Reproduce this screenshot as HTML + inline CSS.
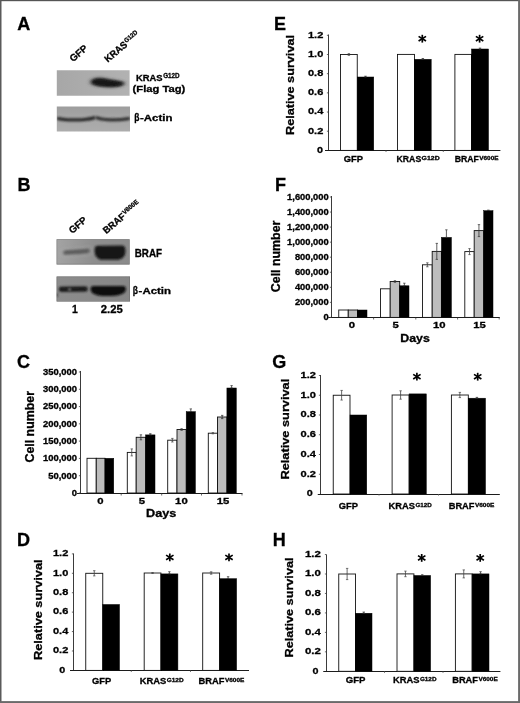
<!DOCTYPE html>
<html><head><meta charset="utf-8"><title>Figure</title>
<style>html,body{margin:0;padding:0;background:#fff;}svg{display:block;}text{font-family:"Liberation Sans", sans-serif;font-weight:bold;fill:#000;stroke:#000;stroke-width:0.3px;}</style></head><body>
<svg width="520" height="703" viewBox="0 0 520 703">
<defs>
<filter id="b1" filterUnits="userSpaceOnUse" x="40" y="50" width="120" height="270"><feGaussianBlur stdDeviation="1.6 1.3"/></filter>
<filter id="b2" filterUnits="userSpaceOnUse" x="40" y="50" width="120" height="270"><feGaussianBlur stdDeviation="1.1 0.9"/></filter>
<filter id="b3" filterUnits="userSpaceOnUse" x="40" y="50" width="120" height="270"><feGaussianBlur stdDeviation="2.2 1.6"/></filter>
<filter id="b4" filterUnits="userSpaceOnUse" x="40" y="50" width="120" height="270"><feGaussianBlur stdDeviation="0.8"/></filter>
<filter id="soft"><feGaussianBlur stdDeviation="0.35"/></filter>
<linearGradient id="gA1" x1="0" x2="1" y1="0" y2="0"><stop offset="0" stop-color="#a7a7a7"/><stop offset="1" stop-color="#b2b2b2"/></linearGradient>
<linearGradient id="gA2" x1="0" x2="0" y1="0" y2="1"><stop offset="0" stop-color="#9d9d9d"/><stop offset="0.6" stop-color="#a9a9a9"/><stop offset="1" stop-color="#adadad"/></linearGradient>
<linearGradient id="gB1" x1="0" x2="1" y1="0" y2="0"><stop offset="0" stop-color="#a4a4a4"/><stop offset="0.5" stop-color="#8e8e8e"/><stop offset="1" stop-color="#8a8a8a"/></linearGradient>
<linearGradient id="gB2" x1="0" x2="1" y1="0" y2="0"><stop offset="0" stop-color="#8c8c8c"/><stop offset="1" stop-color="#868686"/></linearGradient>
<clipPath id="cA1"><rect x="56.8" y="70.2" width="72.8" height="25.6"/></clipPath>
<clipPath id="cA2"><rect x="56.8" y="106.5" width="73.2" height="25.1"/></clipPath>
<clipPath id="cB1"><rect x="56.6" y="239.3" width="73" height="25.1"/></clipPath>
<clipPath id="cB2"><rect x="56.6" y="276.5" width="73.4" height="25.1"/></clipPath>
</defs>
<rect x="0" y="0" width="520" height="703" fill="#fff"/>
<g filter="url(#soft)">
<text x="17.3" y="30.4" font-size="18">A</text>
<text x="17.5" y="191" font-size="18">B</text>
<text x="17.0" y="368.2" font-size="18">C</text>
<text x="17.0" y="546" font-size="18">D</text>
<text x="274.0" y="30.2" font-size="18">E</text>
<text x="275.0" y="191" font-size="18">F</text>
<text x="272.2" y="368.3" font-size="18">G</text>
<text x="272.8" y="546" font-size="18">H</text>
<g clip-path="url(#cA1)"><rect x="56" y="70" width="75" height="27" fill="url(#gA1)"/><path d="M90.5,81.5 C92,78 98,77.2 104,78.2 C111,79.4 118,80.6 124.5,82.2 C125.5,84.5 123,86 118,86.8 C111,87.8 101,87.4 95,85.6 C91.5,84.6 90,83.4 90.5,81.5 Z" fill="#2c2c2c" filter="url(#b3)"/><path d="M93,81.6 C95,79.6 100,79.4 105,80.2 C111,81.2 117,82 122,83 C122,84.6 118,85.4 113,85.6 C106,85.8 99,85.2 95.5,84 C93.5,83.3 92.6,82.6 93,81.6 Z" fill="#181818" stroke="#181818" stroke-width="1.2" filter="url(#b1)"/></g>
<g clip-path="url(#cA2)"><rect x="56" y="106" width="75" height="27" fill="url(#gA2)"/><path d="M58.5,118.6 C66,120.4 84,120.6 94.0,117.8" fill="none" stroke="#2a2a2a" stroke-width="3.3" stroke-linecap="round" filter="url(#b2)"/><path d="M97,117.8 C104,120.6 119,120.2 128.5,118.6" fill="none" stroke="#323232" stroke-width="3.2" stroke-linecap="round" filter="url(#b2)"/></g>
<g clip-path="url(#cB1)"><rect x="56" y="239" width="75" height="27" fill="url(#gB1)"/><path d="M64,252.8 C72,251.8 82,252 89,250.8" fill="none" stroke="#b4b4b4" stroke-width="9" stroke-linecap="round" opacity="0.3" filter="url(#b3)"/><path d="M65.5,252.6 C72,251.8 82,251.9 87.5,250.8" fill="none" stroke="#484848" stroke-width="4.8" stroke-linecap="round" opacity="0.75" filter="url(#b1)"/><path d="M97.6,248.8 L122.2,248.6 C123.2,252 122.6,256 118,256.8 L101,256.8 C98,255.4 97.2,252 97.6,248.8 Z" fill="#141414" stroke="#141414" stroke-width="6" stroke-linejoin="round" filter="url(#b4)"/><rect x="56.6" y="239.3" width="73" height="25.1" fill="none" stroke="#6a6a6a" stroke-width="1.2" opacity="0.7"/></g>
<g clip-path="url(#cB2)"><rect x="56" y="276" width="75" height="27" fill="url(#gB2)"/><path d="M61.5,289.2 L85,289" fill="none" stroke="#1e1e1e" stroke-width="5.5" stroke-linecap="round" filter="url(#b2)"/><circle cx="69.6" cy="289.4" r="1.5" fill="#777" filter="url(#b2)"/><path d="M93,288.4 L123.5,288.4 C124,291 120,293.6 112,293.6 L102,293.6 C95,293.2 92.6,291 93,288.4 Z" fill="#0e0e0e" stroke="#0e0e0e" stroke-width="4.8" stroke-linejoin="round" filter="url(#b4)"/><rect x="56.2" y="293.5" width="1.4" height="3" fill="#222" filter="url(#b4)"/><rect x="56.6" y="276.5" width="73.4" height="25.1" fill="none" stroke="#666" stroke-width="1.2" opacity="0.7"/></g>
<text transform="translate(73.0,62.3) rotate(-40)" font-size="9.7" textLength="20" lengthAdjust="spacingAndGlyphs" stroke-width="0.65">GFP</text>
<text transform="translate(107.8,62.7) rotate(-40)" font-size="9.7" textLength="26.3" lengthAdjust="spacingAndGlyphs" stroke-width="0.65">KRAS</text>
<text transform="translate(107.8,62.7) rotate(-40)" x="26.8" y="-3.3" font-size="6.4" textLength="15.4" lengthAdjust="spacingAndGlyphs" stroke-width="0.65">G12D</text>
<text x="136.00" y="81.40" font-size="8.9" textLength="26.60" lengthAdjust="spacingAndGlyphs" stroke-width="0.65">KRAS</text>
<text x="163.20" y="77.90" font-size="6.6" textLength="16.40" lengthAdjust="spacingAndGlyphs" stroke-width="0.65">G12D</text>
<text x="132.60" y="92.40" font-size="9.7" textLength="52.70" lengthAdjust="spacingAndGlyphs" stroke-width="0.65">(Flag Tag)</text>
<text x="134.20" y="121.10" font-size="10.0" textLength="5.20" lengthAdjust="spacingAndGlyphs" font-weight="normal" stroke-width="0.2">β</text>
<text x="140.00" y="121.10" font-size="9.3" textLength="32.40" lengthAdjust="spacingAndGlyphs" stroke-width="0.65">-Actin</text>
<text transform="translate(72.2,234) rotate(-40)" font-size="9.7" textLength="20" lengthAdjust="spacingAndGlyphs" stroke-width="0.65">GFP</text>
<text transform="translate(106.2,234.3) rotate(-40)" font-size="9.7" textLength="26" lengthAdjust="spacingAndGlyphs" stroke-width="0.65">BRAF</text>
<text transform="translate(106.2,234.3) rotate(-40)" x="26.5" y="-3.3" font-size="6.4" textLength="19" lengthAdjust="spacingAndGlyphs" stroke-width="0.65">V600E</text>
<text x="134.80" y="256.70" font-size="10.3" textLength="27.20" lengthAdjust="spacingAndGlyphs" stroke-width="0.65">BRAF</text>
<text x="132.80" y="293.90" font-size="10.0" textLength="5.20" lengthAdjust="spacingAndGlyphs" font-weight="normal" stroke-width="0.2">β</text>
<text x="138.60" y="293.90" font-size="9.3" textLength="32.40" lengthAdjust="spacingAndGlyphs" stroke-width="0.65">-Actin</text>
<text x="72.00" y="313.30" font-size="10.8" textLength="5.80" lengthAdjust="spacingAndGlyphs" stroke-width="0.65">1</text>
<text x="100.80" y="313.30" font-size="10.8" textLength="22.00" lengthAdjust="spacingAndGlyphs" stroke-width="0.65">2.25</text>
<line x1="80.50" y1="370.97" x2="80.50" y2="493.50" stroke="#3a3a3a" stroke-width="1.0"/>
<line x1="77.00" y1="493.50" x2="242.50" y2="493.50" stroke="#1a1a1a" stroke-width="1.2"/>
<text x="71.78" y="495.80" font-size="8.2" textLength="5.22" lengthAdjust="spacingAndGlyphs" stroke-width="0.45">0</text>
<line x1="78.90" y1="493.00" x2="80.50" y2="493.00" stroke="#444" stroke-width="0.8"/>
<text x="48.29" y="478.51" font-size="8.2" textLength="28.71" lengthAdjust="spacingAndGlyphs" stroke-width="0.45">50,000</text>
<line x1="78.90" y1="475.71" x2="80.50" y2="475.71" stroke="#444" stroke-width="0.8"/>
<text x="43.07" y="461.22" font-size="8.2" textLength="33.93" lengthAdjust="spacingAndGlyphs" stroke-width="0.45">100,000</text>
<line x1="78.90" y1="458.42" x2="80.50" y2="458.42" stroke="#444" stroke-width="0.8"/>
<text x="43.07" y="443.93" font-size="8.2" textLength="33.93" lengthAdjust="spacingAndGlyphs" stroke-width="0.45">150,000</text>
<line x1="78.90" y1="441.13" x2="80.50" y2="441.13" stroke="#444" stroke-width="0.8"/>
<text x="43.07" y="426.64" font-size="8.2" textLength="33.93" lengthAdjust="spacingAndGlyphs" stroke-width="0.45">200,000</text>
<line x1="78.90" y1="423.84" x2="80.50" y2="423.84" stroke="#444" stroke-width="0.8"/>
<text x="43.07" y="409.35" font-size="8.2" textLength="33.93" lengthAdjust="spacingAndGlyphs" stroke-width="0.45">250,000</text>
<line x1="78.90" y1="406.55" x2="80.50" y2="406.55" stroke="#444" stroke-width="0.8"/>
<text x="43.07" y="392.06" font-size="8.2" textLength="33.93" lengthAdjust="spacingAndGlyphs" stroke-width="0.45">300,000</text>
<line x1="78.90" y1="389.26" x2="80.50" y2="389.26" stroke="#444" stroke-width="0.8"/>
<text x="43.07" y="374.77" font-size="8.2" textLength="33.93" lengthAdjust="spacingAndGlyphs" stroke-width="0.45">350,000</text>
<line x1="78.90" y1="371.97" x2="80.50" y2="371.97" stroke="#444" stroke-width="0.8"/>
<rect x="87.00" y="458.30" width="9.25" height="34.70" fill="#fff" stroke="#111" stroke-width="0.9"/>
<rect x="96.25" y="458.30" width="8.75" height="34.70" fill="#bdbdbd" stroke="#111" stroke-width="0.9"/>
<rect x="105.00" y="458.30" width="8.75" height="34.70" fill="#000" stroke="#000" stroke-width="0.5"/>
<rect x="127.30" y="452.40" width="8.90" height="40.60" fill="#fff" stroke="#111" stroke-width="0.9"/>
<rect x="136.20" y="437.30" width="9.40" height="55.70" fill="#bdbdbd" stroke="#111" stroke-width="0.9"/>
<rect x="145.60" y="434.90" width="9.40" height="58.10" fill="#000" stroke="#000" stroke-width="0.5"/>
<line x1="131.75" y1="448.90" x2="131.75" y2="455.90" stroke="#444" stroke-width="0.8"/>
<line x1="130.55" y1="448.90" x2="132.95" y2="448.90" stroke="#444" stroke-width="0.7"/>
<line x1="130.55" y1="455.90" x2="132.95" y2="455.90" stroke="#444" stroke-width="0.7"/>
<line x1="140.90" y1="434.80" x2="140.90" y2="439.80" stroke="#333" stroke-width="0.8"/>
<line x1="139.70" y1="434.80" x2="142.10" y2="434.80" stroke="#333" stroke-width="0.7"/>
<line x1="139.70" y1="439.80" x2="142.10" y2="439.80" stroke="#333" stroke-width="0.7"/>
<line x1="150.30" y1="433.70" x2="150.30" y2="434.90" stroke="#333" stroke-width="0.8"/>
<line x1="149.10" y1="433.70" x2="151.50" y2="433.70" stroke="#333" stroke-width="0.7"/>
<line x1="149.10" y1="434.90" x2="151.50" y2="434.90" stroke="#333" stroke-width="0.7"/>
<rect x="167.70" y="440.20" width="9.30" height="52.80" fill="#fff" stroke="#111" stroke-width="0.9"/>
<rect x="177.00" y="429.50" width="9.20" height="63.50" fill="#bdbdbd" stroke="#111" stroke-width="0.9"/>
<rect x="186.20" y="411.70" width="9.20" height="81.30" fill="#000" stroke="#000" stroke-width="0.5"/>
<line x1="172.35" y1="438.40" x2="172.35" y2="442.00" stroke="#444" stroke-width="0.8"/>
<line x1="171.15" y1="438.40" x2="173.55" y2="438.40" stroke="#444" stroke-width="0.7"/>
<line x1="171.15" y1="442.00" x2="173.55" y2="442.00" stroke="#444" stroke-width="0.7"/>
<line x1="181.60" y1="428.70" x2="181.60" y2="430.30" stroke="#333" stroke-width="0.8"/>
<line x1="180.40" y1="428.70" x2="182.80" y2="428.70" stroke="#333" stroke-width="0.7"/>
<line x1="180.40" y1="430.30" x2="182.80" y2="430.30" stroke="#333" stroke-width="0.7"/>
<line x1="190.80" y1="408.90" x2="190.80" y2="411.70" stroke="#333" stroke-width="0.8"/>
<line x1="189.60" y1="408.90" x2="192.00" y2="408.90" stroke="#333" stroke-width="0.7"/>
<line x1="189.60" y1="411.70" x2="192.00" y2="411.70" stroke="#333" stroke-width="0.7"/>
<rect x="208.30" y="433.20" width="9.20" height="59.80" fill="#fff" stroke="#111" stroke-width="0.9"/>
<rect x="217.50" y="417.00" width="9.40" height="76.00" fill="#bdbdbd" stroke="#111" stroke-width="0.9"/>
<rect x="226.90" y="388.00" width="9.40" height="105.00" fill="#000" stroke="#000" stroke-width="0.5"/>
<line x1="212.90" y1="432.60" x2="212.90" y2="433.80" stroke="#444" stroke-width="0.8"/>
<line x1="211.70" y1="432.60" x2="214.10" y2="432.60" stroke="#444" stroke-width="0.7"/>
<line x1="211.70" y1="433.80" x2="214.10" y2="433.80" stroke="#444" stroke-width="0.7"/>
<line x1="222.20" y1="415.40" x2="222.20" y2="418.60" stroke="#333" stroke-width="0.8"/>
<line x1="221.00" y1="415.40" x2="223.40" y2="415.40" stroke="#333" stroke-width="0.7"/>
<line x1="221.00" y1="418.60" x2="223.40" y2="418.60" stroke="#333" stroke-width="0.7"/>
<line x1="231.60" y1="385.60" x2="231.60" y2="388.00" stroke="#333" stroke-width="0.8"/>
<line x1="230.40" y1="385.60" x2="232.80" y2="385.60" stroke="#333" stroke-width="0.7"/>
<line x1="230.40" y1="388.00" x2="232.80" y2="388.00" stroke="#333" stroke-width="0.7"/>
<line x1="121.20" y1="493.50" x2="121.20" y2="495.50" stroke="#444" stroke-width="0.8"/>
<line x1="161.70" y1="493.50" x2="161.70" y2="495.50" stroke="#444" stroke-width="0.8"/>
<line x1="201.50" y1="493.50" x2="201.50" y2="495.50" stroke="#444" stroke-width="0.8"/>
<line x1="242.00" y1="493.50" x2="242.00" y2="495.50" stroke="#444" stroke-width="0.8"/>
<text x="97.35" y="503.80" font-size="9.1" textLength="6.30" lengthAdjust="spacingAndGlyphs" stroke-width="0.6">0</text>
<text x="138.85" y="503.80" font-size="9.1" textLength="6.30" lengthAdjust="spacingAndGlyphs" stroke-width="0.6">5</text>
<text x="175.10" y="503.80" font-size="9.1" textLength="12.60" lengthAdjust="spacingAndGlyphs" stroke-width="0.6">10</text>
<text x="216.70" y="503.80" font-size="9.1" textLength="12.60" lengthAdjust="spacingAndGlyphs" stroke-width="0.6">15</text>
<text x="146.00" y="516.80" font-size="10.6" textLength="30.30" lengthAdjust="spacingAndGlyphs" stroke-width="0.75">Days</text>
<text transform="translate(33.82,462.50) rotate(-90)" x="0" y="0" font-size="12" textLength="71.50" lengthAdjust="spacingAndGlyphs" stroke-width="0.7">Cell number</text>
<line x1="73.50" y1="553.50" x2="73.50" y2="670.50" stroke="#3a3a3a" stroke-width="1.0"/>
<line x1="70.00" y1="670.50" x2="249.00" y2="670.50" stroke="#1a1a1a" stroke-width="1.2"/>
<line x1="71.90" y1="650.98" x2="73.50" y2="650.98" stroke="#444" stroke-width="0.8"/>
<line x1="71.90" y1="631.56" x2="73.50" y2="631.56" stroke="#444" stroke-width="0.8"/>
<line x1="71.90" y1="612.14" x2="73.50" y2="612.14" stroke="#444" stroke-width="0.8"/>
<line x1="71.90" y1="592.72" x2="73.50" y2="592.72" stroke="#444" stroke-width="0.8"/>
<line x1="71.90" y1="573.30" x2="73.50" y2="573.30" stroke="#444" stroke-width="0.8"/>
<line x1="71.90" y1="553.88" x2="73.50" y2="553.88" stroke="#444" stroke-width="0.8"/>
<text x="59.20" y="672.70" font-size="9.8" textLength="6.00" lengthAdjust="spacingAndGlyphs" stroke-width="0.45">0</text>
<text x="53.00" y="653.28" font-size="9.8" textLength="15.30" lengthAdjust="spacingAndGlyphs" stroke-width="0.45">0.2</text>
<text x="53.00" y="633.86" font-size="9.8" textLength="15.30" lengthAdjust="spacingAndGlyphs" stroke-width="0.45">0.4</text>
<text x="53.00" y="614.44" font-size="9.8" textLength="15.30" lengthAdjust="spacingAndGlyphs" stroke-width="0.45">0.6</text>
<text x="53.00" y="595.02" font-size="9.8" textLength="15.30" lengthAdjust="spacingAndGlyphs" stroke-width="0.45">0.8</text>
<text x="53.00" y="575.60" font-size="9.8" textLength="15.30" lengthAdjust="spacingAndGlyphs" stroke-width="0.45">1.0</text>
<text x="53.00" y="556.18" font-size="9.8" textLength="15.30" lengthAdjust="spacingAndGlyphs" stroke-width="0.45">1.2</text>
<rect x="85.75" y="573.30" width="17.00" height="97.10" fill="#fff" stroke="#111" stroke-width="0.9"/>
<rect x="102.75" y="604.50" width="16.75" height="65.90" fill="#000" stroke="#000" stroke-width="0.5"/>
<line x1="94.25" y1="570.70" x2="94.25" y2="575.90" stroke="#444" stroke-width="0.8"/>
<line x1="93.05" y1="570.70" x2="95.45" y2="570.70" stroke="#444" stroke-width="0.7"/>
<line x1="93.05" y1="575.90" x2="95.45" y2="575.90" stroke="#444" stroke-width="0.7"/>
<rect x="144.20" y="573.00" width="16.70" height="97.40" fill="#fff" stroke="#111" stroke-width="0.9"/>
<rect x="160.90" y="573.90" width="17.00" height="96.50" fill="#000" stroke="#000" stroke-width="0.5"/>
<line x1="152.55" y1="572.50" x2="152.55" y2="573.50" stroke="#444" stroke-width="0.8"/>
<line x1="151.35" y1="572.50" x2="153.75" y2="572.50" stroke="#444" stroke-width="0.7"/>
<line x1="151.35" y1="573.50" x2="153.75" y2="573.50" stroke="#444" stroke-width="0.7"/>
<line x1="169.40" y1="571.70" x2="169.40" y2="573.90" stroke="#333" stroke-width="0.8"/>
<line x1="168.20" y1="571.70" x2="170.60" y2="571.70" stroke="#333" stroke-width="0.7"/>
<line x1="168.20" y1="573.90" x2="170.60" y2="573.90" stroke="#333" stroke-width="0.7"/>
<rect x="202.70" y="573.00" width="16.90" height="97.40" fill="#fff" stroke="#111" stroke-width="0.9"/>
<rect x="219.60" y="578.70" width="17.00" height="91.70" fill="#000" stroke="#000" stroke-width="0.5"/>
<line x1="211.15" y1="571.80" x2="211.15" y2="574.20" stroke="#444" stroke-width="0.8"/>
<line x1="209.95" y1="571.80" x2="212.35" y2="571.80" stroke="#444" stroke-width="0.7"/>
<line x1="209.95" y1="574.20" x2="212.35" y2="574.20" stroke="#444" stroke-width="0.7"/>
<line x1="228.10" y1="576.70" x2="228.10" y2="578.70" stroke="#333" stroke-width="0.8"/>
<line x1="226.90" y1="576.70" x2="229.30" y2="576.70" stroke="#333" stroke-width="0.7"/>
<line x1="226.90" y1="578.70" x2="229.30" y2="578.70" stroke="#333" stroke-width="0.7"/>
<line x1="131.30" y1="670.40" x2="131.30" y2="672.00" stroke="#555" stroke-width="0.8"/>
<line x1="190.50" y1="670.40" x2="190.50" y2="672.00" stroke="#555" stroke-width="0.8"/>
<text transform="translate(41.89,660.00) rotate(-90)" x="0" y="0" font-size="11.5" textLength="100.50" lengthAdjust="spacingAndGlyphs" stroke-width="0.7">Relative survival</text>
<text x="92.00" y="684.00" font-size="9.3" textLength="19.20" lengthAdjust="spacingAndGlyphs" stroke-width="0.75">GFP</text>
<text x="139.70" y="684.00" font-size="9.3" textLength="26.60" lengthAdjust="spacingAndGlyphs" stroke-width="0.75">KRAS</text>
<text x="166.70" y="681.80" font-size="5.8" textLength="16.90" lengthAdjust="spacingAndGlyphs" stroke-width="0.55">G12D</text>
<text x="198.60" y="684.00" font-size="9.3" textLength="25.90" lengthAdjust="spacingAndGlyphs" stroke-width="0.75">BRAF</text>
<text x="224.90" y="681.80" font-size="5.8" textLength="19.40" lengthAdjust="spacingAndGlyphs" stroke-width="0.55">V600E</text>
<g stroke="#000" stroke-width="1.7" stroke-linecap="butt"><line x1="169.80" y1="553.50" x2="169.80" y2="561.30"/><line x1="166.10" y1="555.10" x2="173.50" y2="559.70"/><line x1="166.10" y1="559.70" x2="173.50" y2="555.10"/></g>
<g stroke="#000" stroke-width="1.7" stroke-linecap="butt"><line x1="229.00" y1="553.50" x2="229.00" y2="561.30"/><line x1="225.30" y1="555.10" x2="232.70" y2="559.70"/><line x1="225.30" y1="559.70" x2="232.70" y2="555.10"/></g>
<line x1="328.50" y1="34.50" x2="328.50" y2="150.50" stroke="#3a3a3a" stroke-width="1.0"/>
<line x1="325.00" y1="150.50" x2="500.40" y2="150.50" stroke="#1a1a1a" stroke-width="1.2"/>
<line x1="326.90" y1="131.22" x2="328.50" y2="131.22" stroke="#444" stroke-width="0.8"/>
<line x1="326.90" y1="112.04" x2="328.50" y2="112.04" stroke="#444" stroke-width="0.8"/>
<line x1="326.90" y1="92.86" x2="328.50" y2="92.86" stroke="#444" stroke-width="0.8"/>
<line x1="326.90" y1="73.68" x2="328.50" y2="73.68" stroke="#444" stroke-width="0.8"/>
<line x1="326.90" y1="54.50" x2="328.50" y2="54.50" stroke="#444" stroke-width="0.8"/>
<line x1="326.90" y1="35.32" x2="328.50" y2="35.32" stroke="#444" stroke-width="0.8"/>
<text x="317.00" y="152.70" font-size="9.8" textLength="6.00" lengthAdjust="spacingAndGlyphs" stroke-width="0.45">0</text>
<text x="308.00" y="133.52" font-size="9.8" textLength="15.30" lengthAdjust="spacingAndGlyphs" stroke-width="0.45">0.2</text>
<text x="308.00" y="114.34" font-size="9.8" textLength="15.30" lengthAdjust="spacingAndGlyphs" stroke-width="0.45">0.4</text>
<text x="308.00" y="95.16" font-size="9.8" textLength="15.30" lengthAdjust="spacingAndGlyphs" stroke-width="0.45">0.6</text>
<text x="308.00" y="75.98" font-size="9.8" textLength="15.30" lengthAdjust="spacingAndGlyphs" stroke-width="0.45">0.8</text>
<text x="308.00" y="56.80" font-size="9.8" textLength="15.30" lengthAdjust="spacingAndGlyphs" stroke-width="0.45">1.0</text>
<text x="308.00" y="37.62" font-size="9.8" textLength="15.30" lengthAdjust="spacingAndGlyphs" stroke-width="0.45">1.2</text>
<rect x="340.50" y="54.50" width="16.75" height="95.90" fill="#fff" stroke="#111" stroke-width="0.9"/>
<rect x="357.25" y="77.00" width="16.50" height="73.40" fill="#000" stroke="#000" stroke-width="0.5"/>
<line x1="348.88" y1="53.60" x2="348.88" y2="55.40" stroke="#444" stroke-width="0.8"/>
<line x1="347.68" y1="53.60" x2="350.07" y2="53.60" stroke="#444" stroke-width="0.7"/>
<line x1="347.68" y1="55.40" x2="350.07" y2="55.40" stroke="#444" stroke-width="0.7"/>
<line x1="365.50" y1="76.20" x2="365.50" y2="77.00" stroke="#333" stroke-width="0.8"/>
<line x1="364.30" y1="76.20" x2="366.70" y2="76.20" stroke="#333" stroke-width="0.7"/>
<line x1="364.30" y1="77.00" x2="366.70" y2="77.00" stroke="#333" stroke-width="0.7"/>
<rect x="397.50" y="54.40" width="17.00" height="96.00" fill="#fff" stroke="#111" stroke-width="0.9"/>
<rect x="414.50" y="59.30" width="16.70" height="91.10" fill="#000" stroke="#000" stroke-width="0.5"/>
<line x1="422.85" y1="58.50" x2="422.85" y2="59.30" stroke="#333" stroke-width="0.8"/>
<line x1="421.65" y1="58.50" x2="424.05" y2="58.50" stroke="#333" stroke-width="0.7"/>
<line x1="421.65" y1="59.30" x2="424.05" y2="59.30" stroke="#333" stroke-width="0.7"/>
<rect x="454.90" y="54.40" width="16.60" height="96.00" fill="#fff" stroke="#111" stroke-width="0.9"/>
<rect x="471.50" y="49.00" width="17.00" height="101.40" fill="#000" stroke="#000" stroke-width="0.5"/>
<line x1="480.00" y1="48.10" x2="480.00" y2="49.00" stroke="#333" stroke-width="0.8"/>
<line x1="478.80" y1="48.10" x2="481.20" y2="48.10" stroke="#333" stroke-width="0.7"/>
<line x1="478.80" y1="49.00" x2="481.20" y2="49.00" stroke="#333" stroke-width="0.7"/>
<line x1="386.00" y1="150.40" x2="386.00" y2="152.00" stroke="#555" stroke-width="0.8"/>
<line x1="443.30" y1="150.40" x2="443.30" y2="152.00" stroke="#555" stroke-width="0.8"/>
<text transform="translate(294.39,135.00) rotate(-90)" x="0" y="0" font-size="11.5" textLength="100.00" lengthAdjust="spacingAndGlyphs" stroke-width="0.7">Relative survival</text>
<text x="343.80" y="161.80" font-size="9.3" textLength="19.30" lengthAdjust="spacingAndGlyphs" stroke-width="0.75">GFP</text>
<text x="396.50" y="161.80" font-size="9.3" textLength="24.70" lengthAdjust="spacingAndGlyphs" stroke-width="0.75">KRAS</text>
<text x="421.60" y="159.60" font-size="5.8" textLength="18.10" lengthAdjust="spacingAndGlyphs" stroke-width="0.55">G12D</text>
<text x="454.70" y="161.80" font-size="9.3" textLength="24.20" lengthAdjust="spacingAndGlyphs" stroke-width="0.75">BRAF</text>
<text x="479.30" y="159.60" font-size="5.8" textLength="19.20" lengthAdjust="spacingAndGlyphs" stroke-width="0.55">V600E</text>
<g stroke="#000" stroke-width="1.7" stroke-linecap="butt"><line x1="422.30" y1="34.80" x2="422.30" y2="42.60"/><line x1="418.60" y1="36.40" x2="426.00" y2="41.00"/><line x1="418.60" y1="41.00" x2="426.00" y2="36.40"/></g>
<g stroke="#000" stroke-width="1.7" stroke-linecap="butt"><line x1="479.60" y1="34.80" x2="479.60" y2="42.60"/><line x1="475.90" y1="36.40" x2="483.30" y2="41.00"/><line x1="475.90" y1="41.00" x2="483.30" y2="36.40"/></g>
<line x1="331.50" y1="196.00" x2="331.50" y2="317.50" stroke="#3a3a3a" stroke-width="1.0"/>
<line x1="328.25" y1="317.50" x2="499.80" y2="317.50" stroke="#1a1a1a" stroke-width="1.2"/>
<text x="323.50" y="320.20" font-size="8.2" textLength="5.20" lengthAdjust="spacingAndGlyphs" stroke-width="0.45">0</text>
<line x1="329.90" y1="317.40" x2="331.50" y2="317.40" stroke="#444" stroke-width="0.8"/>
<text x="294.90" y="305.15" font-size="8.2" textLength="33.80" lengthAdjust="spacingAndGlyphs" stroke-width="0.45">200,000</text>
<line x1="329.90" y1="302.35" x2="331.50" y2="302.35" stroke="#444" stroke-width="0.8"/>
<text x="294.90" y="290.10" font-size="8.2" textLength="33.80" lengthAdjust="spacingAndGlyphs" stroke-width="0.45">400,000</text>
<line x1="329.90" y1="287.30" x2="331.50" y2="287.30" stroke="#444" stroke-width="0.8"/>
<text x="294.90" y="275.05" font-size="8.2" textLength="33.80" lengthAdjust="spacingAndGlyphs" stroke-width="0.45">600,000</text>
<line x1="329.90" y1="272.25" x2="331.50" y2="272.25" stroke="#444" stroke-width="0.8"/>
<text x="294.90" y="260.00" font-size="8.2" textLength="33.80" lengthAdjust="spacingAndGlyphs" stroke-width="0.45">800,000</text>
<line x1="329.90" y1="257.20" x2="331.50" y2="257.20" stroke="#444" stroke-width="0.8"/>
<text x="287.10" y="244.95" font-size="8.2" textLength="41.60" lengthAdjust="spacingAndGlyphs" stroke-width="0.45">1,000,000</text>
<line x1="329.90" y1="242.15" x2="331.50" y2="242.15" stroke="#444" stroke-width="0.8"/>
<text x="287.10" y="229.90" font-size="8.2" textLength="41.60" lengthAdjust="spacingAndGlyphs" stroke-width="0.45">1,200,000</text>
<line x1="329.90" y1="227.10" x2="331.50" y2="227.10" stroke="#444" stroke-width="0.8"/>
<text x="287.10" y="214.85" font-size="8.2" textLength="41.60" lengthAdjust="spacingAndGlyphs" stroke-width="0.45">1,400,000</text>
<line x1="329.90" y1="212.05" x2="331.50" y2="212.05" stroke="#444" stroke-width="0.8"/>
<text x="287.10" y="199.80" font-size="8.2" textLength="41.60" lengthAdjust="spacingAndGlyphs" stroke-width="0.45">1,600,000</text>
<line x1="329.90" y1="197.00" x2="331.50" y2="197.00" stroke="#444" stroke-width="0.8"/>
<rect x="338.75" y="310.00" width="9.50" height="7.40" fill="#fff" stroke="#111" stroke-width="0.9"/>
<rect x="348.25" y="310.00" width="9.25" height="7.40" fill="#bdbdbd" stroke="#111" stroke-width="0.9"/>
<rect x="357.50" y="310.00" width="9.50" height="7.40" fill="#000" stroke="#000" stroke-width="0.5"/>
<rect x="380.50" y="288.80" width="9.70" height="28.60" fill="#fff" stroke="#111" stroke-width="0.9"/>
<rect x="390.20" y="281.50" width="9.50" height="35.90" fill="#bdbdbd" stroke="#111" stroke-width="0.9"/>
<rect x="399.70" y="285.80" width="9.30" height="31.60" fill="#000" stroke="#000" stroke-width="0.5"/>
<line x1="394.95" y1="280.70" x2="394.95" y2="282.30" stroke="#333" stroke-width="0.8"/>
<line x1="393.75" y1="280.70" x2="396.15" y2="280.70" stroke="#333" stroke-width="0.7"/>
<line x1="393.75" y1="282.30" x2="396.15" y2="282.30" stroke="#333" stroke-width="0.7"/>
<line x1="404.35" y1="283.20" x2="404.35" y2="285.80" stroke="#333" stroke-width="0.8"/>
<line x1="403.15" y1="283.20" x2="405.55" y2="283.20" stroke="#333" stroke-width="0.7"/>
<line x1="403.15" y1="285.80" x2="405.55" y2="285.80" stroke="#333" stroke-width="0.7"/>
<rect x="422.50" y="264.80" width="9.70" height="52.60" fill="#fff" stroke="#111" stroke-width="0.9"/>
<rect x="432.20" y="251.40" width="9.20" height="66.00" fill="#bdbdbd" stroke="#111" stroke-width="0.9"/>
<rect x="441.40" y="237.40" width="10.00" height="80.00" fill="#000" stroke="#000" stroke-width="0.5"/>
<line x1="427.35" y1="262.80" x2="427.35" y2="266.80" stroke="#444" stroke-width="0.8"/>
<line x1="426.15" y1="262.80" x2="428.55" y2="262.80" stroke="#444" stroke-width="0.7"/>
<line x1="426.15" y1="266.80" x2="428.55" y2="266.80" stroke="#444" stroke-width="0.7"/>
<line x1="436.80" y1="243.40" x2="436.80" y2="259.40" stroke="#333" stroke-width="0.8"/>
<line x1="435.60" y1="243.40" x2="438.00" y2="243.40" stroke="#333" stroke-width="0.7"/>
<line x1="435.60" y1="259.40" x2="438.00" y2="259.40" stroke="#333" stroke-width="0.7"/>
<line x1="446.40" y1="229.80" x2="446.40" y2="237.40" stroke="#333" stroke-width="0.8"/>
<line x1="445.20" y1="229.80" x2="447.60" y2="229.80" stroke="#333" stroke-width="0.7"/>
<line x1="445.20" y1="237.40" x2="447.60" y2="237.40" stroke="#333" stroke-width="0.7"/>
<rect x="464.80" y="251.60" width="9.40" height="65.80" fill="#fff" stroke="#111" stroke-width="0.9"/>
<rect x="474.20" y="230.60" width="9.50" height="86.80" fill="#bdbdbd" stroke="#111" stroke-width="0.9"/>
<rect x="483.70" y="210.70" width="9.30" height="106.70" fill="#000" stroke="#000" stroke-width="0.5"/>
<line x1="469.50" y1="248.60" x2="469.50" y2="254.60" stroke="#444" stroke-width="0.8"/>
<line x1="468.30" y1="248.60" x2="470.70" y2="248.60" stroke="#444" stroke-width="0.7"/>
<line x1="468.30" y1="254.60" x2="470.70" y2="254.60" stroke="#444" stroke-width="0.7"/>
<line x1="478.95" y1="224.60" x2="478.95" y2="236.60" stroke="#333" stroke-width="0.8"/>
<line x1="477.75" y1="224.60" x2="480.15" y2="224.60" stroke="#333" stroke-width="0.7"/>
<line x1="477.75" y1="236.60" x2="480.15" y2="236.60" stroke="#333" stroke-width="0.7"/>
<line x1="488.35" y1="210.10" x2="488.35" y2="210.70" stroke="#333" stroke-width="0.8"/>
<line x1="487.15" y1="210.10" x2="489.55" y2="210.10" stroke="#333" stroke-width="0.7"/>
<line x1="487.15" y1="210.70" x2="489.55" y2="210.70" stroke="#333" stroke-width="0.7"/>
<line x1="373.60" y1="317.50" x2="373.60" y2="319.50" stroke="#444" stroke-width="0.8"/>
<line x1="415.80" y1="317.50" x2="415.80" y2="319.50" stroke="#444" stroke-width="0.8"/>
<line x1="457.60" y1="317.50" x2="457.60" y2="319.50" stroke="#444" stroke-width="0.8"/>
<line x1="499.20" y1="317.50" x2="499.20" y2="319.50" stroke="#444" stroke-width="0.8"/>
<text x="348.85" y="328.40" font-size="9.1" textLength="6.30" lengthAdjust="spacingAndGlyphs" stroke-width="0.6">0</text>
<text x="392.55" y="328.40" font-size="9.1" textLength="6.30" lengthAdjust="spacingAndGlyphs" stroke-width="0.6">5</text>
<text x="432.90" y="328.40" font-size="9.1" textLength="12.60" lengthAdjust="spacingAndGlyphs" stroke-width="0.6">10</text>
<text x="473.30" y="328.40" font-size="9.1" textLength="12.60" lengthAdjust="spacingAndGlyphs" stroke-width="0.6">15</text>
<text x="400.20" y="341.60" font-size="10.6" textLength="29.60" lengthAdjust="spacingAndGlyphs" stroke-width="0.75">Days</text>
<text transform="translate(280.32,292.20) rotate(-90)" x="0" y="0" font-size="12" textLength="71.60" lengthAdjust="spacingAndGlyphs" stroke-width="0.7">Cell number</text>
<line x1="320.50" y1="375.00" x2="320.50" y2="494.50" stroke="#3a3a3a" stroke-width="1.0"/>
<line x1="317.75" y1="494.50" x2="499.80" y2="494.50" stroke="#1a1a1a" stroke-width="1.2"/>
<line x1="318.90" y1="474.25" x2="320.50" y2="474.25" stroke="#444" stroke-width="0.8"/>
<line x1="318.90" y1="454.50" x2="320.50" y2="454.50" stroke="#444" stroke-width="0.8"/>
<line x1="318.90" y1="434.75" x2="320.50" y2="434.75" stroke="#444" stroke-width="0.8"/>
<line x1="318.90" y1="415.00" x2="320.50" y2="415.00" stroke="#444" stroke-width="0.8"/>
<line x1="318.90" y1="395.25" x2="320.50" y2="395.25" stroke="#444" stroke-width="0.8"/>
<line x1="318.90" y1="375.50" x2="320.50" y2="375.50" stroke="#444" stroke-width="0.8"/>
<text x="306.80" y="496.30" font-size="9.8" textLength="6.00" lengthAdjust="spacingAndGlyphs" stroke-width="0.45">0</text>
<text x="300.50" y="476.55" font-size="9.8" textLength="15.40" lengthAdjust="spacingAndGlyphs" stroke-width="0.45">0.2</text>
<text x="300.50" y="456.80" font-size="9.8" textLength="15.40" lengthAdjust="spacingAndGlyphs" stroke-width="0.45">0.4</text>
<text x="300.50" y="437.05" font-size="9.8" textLength="15.40" lengthAdjust="spacingAndGlyphs" stroke-width="0.45">0.6</text>
<text x="300.50" y="417.30" font-size="9.8" textLength="15.40" lengthAdjust="spacingAndGlyphs" stroke-width="0.45">0.8</text>
<text x="300.50" y="397.55" font-size="9.8" textLength="15.40" lengthAdjust="spacingAndGlyphs" stroke-width="0.45">1.0</text>
<text x="300.50" y="377.80" font-size="9.8" textLength="15.40" lengthAdjust="spacingAndGlyphs" stroke-width="0.45">1.2</text>
<rect x="333.25" y="395.25" width="16.75" height="98.75" fill="#fff" stroke="#111" stroke-width="0.9"/>
<rect x="350.00" y="415.00" width="16.75" height="79.00" fill="#000" stroke="#000" stroke-width="0.5"/>
<line x1="341.62" y1="390.45" x2="341.62" y2="400.05" stroke="#444" stroke-width="0.8"/>
<line x1="340.43" y1="390.45" x2="342.82" y2="390.45" stroke="#444" stroke-width="0.7"/>
<line x1="340.43" y1="400.05" x2="342.82" y2="400.05" stroke="#444" stroke-width="0.7"/>
<rect x="392.10" y="395.00" width="17.00" height="99.00" fill="#fff" stroke="#111" stroke-width="0.9"/>
<rect x="409.10" y="393.90" width="17.20" height="100.10" fill="#000" stroke="#000" stroke-width="0.5"/>
<line x1="400.60" y1="390.80" x2="400.60" y2="399.20" stroke="#444" stroke-width="0.8"/>
<line x1="399.40" y1="390.80" x2="401.80" y2="390.80" stroke="#444" stroke-width="0.7"/>
<line x1="399.40" y1="399.20" x2="401.80" y2="399.20" stroke="#444" stroke-width="0.7"/>
<rect x="451.40" y="395.00" width="16.90" height="99.00" fill="#fff" stroke="#111" stroke-width="0.9"/>
<rect x="468.30" y="398.20" width="17.20" height="95.80" fill="#000" stroke="#000" stroke-width="0.5"/>
<line x1="459.85" y1="392.40" x2="459.85" y2="397.60" stroke="#444" stroke-width="0.8"/>
<line x1="458.65" y1="392.40" x2="461.05" y2="392.40" stroke="#444" stroke-width="0.7"/>
<line x1="458.65" y1="397.60" x2="461.05" y2="397.60" stroke="#444" stroke-width="0.7"/>
<line x1="476.90" y1="397.40" x2="476.90" y2="398.20" stroke="#333" stroke-width="0.8"/>
<line x1="475.70" y1="397.40" x2="478.10" y2="397.40" stroke="#333" stroke-width="0.7"/>
<line x1="475.70" y1="398.20" x2="478.10" y2="398.20" stroke="#333" stroke-width="0.7"/>
<line x1="379.00" y1="494.00" x2="379.00" y2="495.60" stroke="#555" stroke-width="0.8"/>
<line x1="438.50" y1="494.00" x2="438.50" y2="495.60" stroke="#555" stroke-width="0.8"/>
<text transform="translate(288.64,479.50) rotate(-90)" x="0" y="0" font-size="11.5" textLength="100.75" lengthAdjust="spacingAndGlyphs" stroke-width="0.7">Relative survival</text>
<text x="338.75" y="509.00" font-size="9.3" textLength="19.25" lengthAdjust="spacingAndGlyphs" stroke-width="0.75">GFP</text>
<text x="388.60" y="509.00" font-size="9.3" textLength="26.40" lengthAdjust="spacingAndGlyphs" stroke-width="0.75">KRAS</text>
<text x="415.40" y="506.80" font-size="5.8" textLength="16.30" lengthAdjust="spacingAndGlyphs" stroke-width="0.55">G12D</text>
<text x="448.70" y="509.00" font-size="9.3" textLength="25.80" lengthAdjust="spacingAndGlyphs" stroke-width="0.75">BRAF</text>
<text x="474.90" y="506.80" font-size="5.8" textLength="19.50" lengthAdjust="spacingAndGlyphs" stroke-width="0.55">V600E</text>
<g stroke="#000" stroke-width="1.7" stroke-linecap="butt"><line x1="416.90" y1="372.80" x2="416.90" y2="380.60"/><line x1="413.20" y1="374.40" x2="420.60" y2="379.00"/><line x1="413.20" y1="379.00" x2="420.60" y2="374.40"/></g>
<g stroke="#000" stroke-width="1.7" stroke-linecap="butt"><line x1="477.70" y1="372.80" x2="477.70" y2="380.60"/><line x1="474.00" y1="374.40" x2="481.40" y2="379.00"/><line x1="474.00" y1="379.00" x2="481.40" y2="374.40"/></g>
<line x1="326.50" y1="554.50" x2="326.50" y2="671.50" stroke="#3a3a3a" stroke-width="1.0"/>
<line x1="323.25" y1="671.50" x2="500.40" y2="671.50" stroke="#1a1a1a" stroke-width="1.2"/>
<line x1="324.90" y1="651.84" x2="326.50" y2="651.84" stroke="#444" stroke-width="0.8"/>
<line x1="324.90" y1="632.38" x2="326.50" y2="632.38" stroke="#444" stroke-width="0.8"/>
<line x1="324.90" y1="612.92" x2="326.50" y2="612.92" stroke="#444" stroke-width="0.8"/>
<line x1="324.90" y1="593.46" x2="326.50" y2="593.46" stroke="#444" stroke-width="0.8"/>
<line x1="324.90" y1="574.00" x2="326.50" y2="574.00" stroke="#444" stroke-width="0.8"/>
<line x1="324.90" y1="554.54" x2="326.50" y2="554.54" stroke="#444" stroke-width="0.8"/>
<text x="312.60" y="673.60" font-size="9.8" textLength="6.00" lengthAdjust="spacingAndGlyphs" stroke-width="0.45">0</text>
<text x="305.00" y="654.14" font-size="9.8" textLength="15.90" lengthAdjust="spacingAndGlyphs" stroke-width="0.45">0.2</text>
<text x="305.00" y="634.68" font-size="9.8" textLength="15.90" lengthAdjust="spacingAndGlyphs" stroke-width="0.45">0.4</text>
<text x="305.00" y="615.22" font-size="9.8" textLength="15.90" lengthAdjust="spacingAndGlyphs" stroke-width="0.45">0.6</text>
<text x="305.00" y="595.76" font-size="9.8" textLength="15.90" lengthAdjust="spacingAndGlyphs" stroke-width="0.45">0.8</text>
<text x="305.00" y="576.30" font-size="9.8" textLength="15.90" lengthAdjust="spacingAndGlyphs" stroke-width="0.45">1.0</text>
<text x="305.00" y="556.84" font-size="9.8" textLength="15.90" lengthAdjust="spacingAndGlyphs" stroke-width="0.45">1.2</text>
<rect x="338.75" y="574.00" width="16.75" height="97.30" fill="#fff" stroke="#111" stroke-width="0.9"/>
<rect x="355.50" y="613.25" width="16.50" height="58.05" fill="#000" stroke="#000" stroke-width="0.5"/>
<line x1="347.12" y1="568.40" x2="347.12" y2="579.60" stroke="#444" stroke-width="0.8"/>
<line x1="345.93" y1="568.40" x2="348.32" y2="568.40" stroke="#444" stroke-width="0.7"/>
<line x1="345.93" y1="579.60" x2="348.32" y2="579.60" stroke="#444" stroke-width="0.7"/>
<line x1="363.75" y1="612.05" x2="363.75" y2="613.25" stroke="#333" stroke-width="0.8"/>
<line x1="362.55" y1="612.05" x2="364.95" y2="612.05" stroke="#333" stroke-width="0.7"/>
<line x1="362.55" y1="613.25" x2="364.95" y2="613.25" stroke="#333" stroke-width="0.7"/>
<rect x="397.00" y="573.90" width="16.90" height="97.40" fill="#fff" stroke="#111" stroke-width="0.9"/>
<rect x="413.90" y="575.50" width="16.70" height="95.80" fill="#000" stroke="#000" stroke-width="0.5"/>
<line x1="405.45" y1="571.10" x2="405.45" y2="576.70" stroke="#444" stroke-width="0.8"/>
<line x1="404.25" y1="571.10" x2="406.65" y2="571.10" stroke="#444" stroke-width="0.7"/>
<line x1="404.25" y1="576.70" x2="406.65" y2="576.70" stroke="#444" stroke-width="0.7"/>
<line x1="422.25" y1="574.70" x2="422.25" y2="575.50" stroke="#333" stroke-width="0.8"/>
<line x1="421.05" y1="574.70" x2="423.45" y2="574.70" stroke="#333" stroke-width="0.7"/>
<line x1="421.05" y1="575.50" x2="423.45" y2="575.50" stroke="#333" stroke-width="0.7"/>
<rect x="455.40" y="573.90" width="16.70" height="97.40" fill="#fff" stroke="#111" stroke-width="0.9"/>
<rect x="472.10" y="573.90" width="16.90" height="97.40" fill="#000" stroke="#000" stroke-width="0.5"/>
<line x1="463.75" y1="569.90" x2="463.75" y2="577.90" stroke="#444" stroke-width="0.8"/>
<line x1="462.55" y1="569.90" x2="464.95" y2="569.90" stroke="#444" stroke-width="0.7"/>
<line x1="462.55" y1="577.90" x2="464.95" y2="577.90" stroke="#444" stroke-width="0.7"/>
<line x1="480.55" y1="571.70" x2="480.55" y2="573.90" stroke="#333" stroke-width="0.8"/>
<line x1="479.35" y1="571.70" x2="481.75" y2="571.70" stroke="#333" stroke-width="0.7"/>
<line x1="479.35" y1="573.90" x2="481.75" y2="573.90" stroke="#333" stroke-width="0.7"/>
<line x1="384.50" y1="671.30" x2="384.50" y2="672.90" stroke="#555" stroke-width="0.8"/>
<line x1="443.00" y1="671.30" x2="443.00" y2="672.90" stroke="#555" stroke-width="0.8"/>
<text transform="translate(292.64,657.50) rotate(-90)" x="0" y="0" font-size="11.5" textLength="100.00" lengthAdjust="spacingAndGlyphs" stroke-width="0.7">Relative survival</text>
<text x="345.75" y="683.40" font-size="9.3" textLength="19.75" lengthAdjust="spacingAndGlyphs" stroke-width="0.75">GFP</text>
<text x="393.00" y="683.40" font-size="9.3" textLength="26.50" lengthAdjust="spacingAndGlyphs" stroke-width="0.75">KRAS</text>
<text x="419.90" y="681.20" font-size="5.8" textLength="16.60" lengthAdjust="spacingAndGlyphs" stroke-width="0.55">G12D</text>
<text x="452.20" y="683.40" font-size="9.3" textLength="25.80" lengthAdjust="spacingAndGlyphs" stroke-width="0.75">BRAF</text>
<text x="478.40" y="681.20" font-size="5.8" textLength="19.30" lengthAdjust="spacingAndGlyphs" stroke-width="0.55">V600E</text>
<g stroke="#000" stroke-width="1.7" stroke-linecap="butt"><line x1="421.70" y1="554.00" x2="421.70" y2="561.80"/><line x1="418.00" y1="555.60" x2="425.40" y2="560.20"/><line x1="418.00" y1="560.20" x2="425.40" y2="555.60"/></g>
<g stroke="#000" stroke-width="1.7" stroke-linecap="butt"><line x1="480.20" y1="554.00" x2="480.20" y2="561.80"/><line x1="476.50" y1="555.60" x2="483.90" y2="560.20"/><line x1="476.50" y1="560.20" x2="483.90" y2="555.60"/></g>
</g>
<g filter="url(#soft)"><rect x="-2" y="-2" width="524" height="3.2" fill="#555"/>
<rect x="-2" y="-2" width="3.5" height="707" fill="#5a5a5a"/>
<rect x="518.1" y="-2" width="4" height="707" fill="#6a6a6a"/>
<rect x="-2" y="701.1" width="524" height="4" fill="#6a6a6a"/></g>
</svg></body></html>
